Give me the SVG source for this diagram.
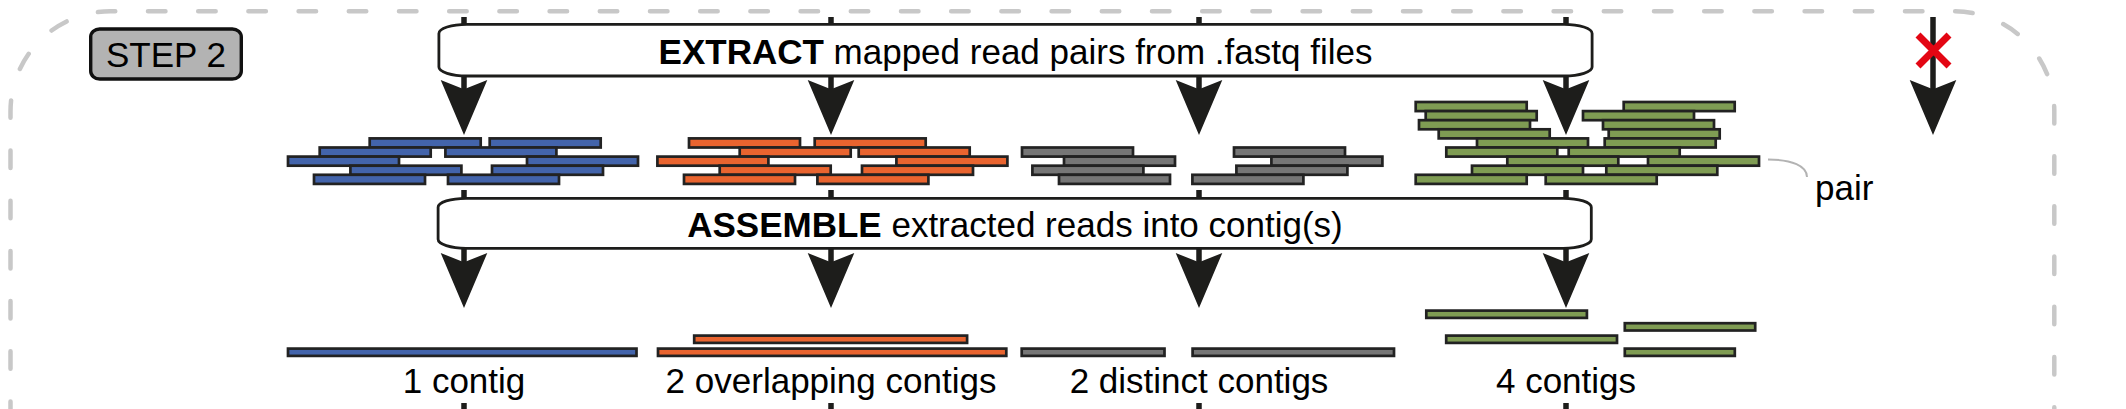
<svg xmlns="http://www.w3.org/2000/svg" width="2126" height="409" viewBox="0 0 2126 409">
<style>
.border{fill:none;stroke:#c8c8c8;stroke-width:4.5;stroke-linecap:round;stroke-dasharray:17.5 32.7;stroke-dashoffset:10}
.box{fill:#fff;stroke:#1d1d1b;stroke-width:2.8}
.step{fill:#b3b3b3;stroke:#111;stroke-width:3.4}
.t{font-family:"Liberation Sans",Arial,sans-serif;font-size:35px;fill:#000}
.b{font-weight:bold}
.rd rect{stroke:#222;stroke-width:2.7}
.blue rect{fill:#4364ab}
.orange rect{fill:#e9642f}
.gray rect{fill:#767676}
.green rect{fill:#7f9c53}
.shaft{stroke:#1d1d1b;stroke-width:5.5;fill:none}
.head{fill:#1d1d1b}
.cross{stroke:#e30613;stroke-width:7;fill:none}
.lead{fill:none;stroke:#b3b3b3;stroke-width:2}
</style>
<defs>
<polygon id="ah" points="-23.3,0 0,9.3 23.3,0 0,55"/>
</defs>
<path class="border" d="M 10.5 409 V 111.3 A 100 100 0 0 1 110.5 11.3 H 1954.3 A 100 100 0 0 1 2054.3 111.3 V 409"/>
<g id="step-label">
<rect class="step" x="90.7" y="29" width="150.6" height="50" rx="9" ry="8"/>
<text class="t" x="166" y="66.7" text-anchor="middle">STEP 2</text>
</g>
<g id="reads-blue" class="rd blue">
<rect x="369.7" y="138.4" width="111" height="9.1"/><rect x="489.7" y="138.4" width="111" height="9.1"/>
<rect x="319.7" y="147.5" width="111" height="9.1"/><rect x="445.4" y="147.5" width="111" height="9.1"/>
<rect x="288" y="156.6" width="111" height="9.1"/><rect x="527" y="156.6" width="111" height="9.1"/>
<rect x="350.4" y="165.7" width="111" height="9.1"/><rect x="492" y="165.7" width="111" height="9.1"/>
<rect x="314" y="174.8" width="111" height="9.1"/><rect x="448" y="174.8" width="111" height="9.1"/>
</g>
<g id="reads-orange" class="rd orange">
<rect x="689" y="138.4" width="111" height="9.1"/><rect x="814.7" y="138.4" width="111" height="9.1"/>
<rect x="739.7" y="147.5" width="111" height="9.1"/><rect x="858.7" y="147.5" width="111" height="9.1"/>
<rect x="657.4" y="156.6" width="111" height="9.1"/><rect x="896.4" y="156.6" width="111" height="9.1"/>
<rect x="719.7" y="165.7" width="111" height="9.1"/><rect x="862" y="165.7" width="111" height="9.1"/>
<rect x="684" y="174.8" width="111" height="9.1"/><rect x="817.4" y="174.8" width="111" height="9.1"/>
</g>
<g id="reads-gray" class="rd gray">
<rect x="1022" y="147.5" width="111" height="9.1"/><rect x="1234" y="147.5" width="111" height="9.1"/>
<rect x="1064" y="156.6" width="111" height="9.1"/><rect x="1271.4" y="156.6" width="111" height="9.1"/>
<rect x="1032.4" y="165.7" width="111" height="9.1"/><rect x="1236.4" y="165.7" width="111" height="9.1"/>
<rect x="1059" y="174.8" width="111" height="9.1"/><rect x="1192.4" y="174.8" width="111" height="9.1"/>
</g>
<g id="reads-green" class="rd green">
<rect x="1415.7" y="102" width="111" height="9.1"/><rect x="1623.7" y="102" width="111" height="9.1"/>
<rect x="1425.7" y="111.1" width="111" height="9.1"/><rect x="1583" y="111.1" width="111" height="9.1"/>
<rect x="1419" y="120.2" width="111" height="9.1"/><rect x="1603" y="120.2" width="111" height="9.1"/>
<rect x="1438.7" y="129.3" width="111" height="9.1"/><rect x="1608.7" y="129.3" width="111" height="9.1"/>
<rect x="1477" y="138.4" width="111" height="9.1"/><rect x="1604.7" y="138.4" width="111" height="9.1"/>
<rect x="1446.3" y="147.5" width="111" height="9.1"/><rect x="1568.7" y="147.5" width="111" height="9.1"/>
<rect x="1507.3" y="156.6" width="111" height="9.1"/><rect x="1648" y="156.6" width="111" height="9.1"/>
<rect x="1472" y="165.7" width="111" height="9.1"/><rect x="1606.3" y="165.7" width="111" height="9.1"/>
<rect x="1415.7" y="174.8" width="111" height="9.1"/><rect x="1545.7" y="174.8" width="111" height="9.1"/>
</g>
<g id="pair-label">
<path class="lead" d="M 1768 159.5 C 1792 159.5 1807 166 1807 177"/>
<text class="t" x="1815" y="200">pair</text>
</g>
<g id="contigs-blue" class="rd blue">
<rect x="288" y="348.6" width="348.5" height="7.3"/>
<text class="t" x="464" y="393" text-anchor="middle">1 contig</text>
</g>
<g id="contigs-orange" class="rd orange">
<rect x="694.2" y="335.6" width="272.9" height="7.3"/>
<rect x="658" y="348.6" width="348.3" height="7.3"/>
<text class="t" x="831" y="393" text-anchor="middle">2 overlapping contigs</text>
</g>
<g id="contigs-gray" class="rd gray">
<rect x="1021.7" y="348.6" width="142.8" height="7.3"/>
<rect x="1192.6" y="348.6" width="201.4" height="7.3"/>
<text class="t" x="1199" y="393" text-anchor="middle">2 distinct contigs</text>
</g>
<g id="contigs-green" class="rd green">
<rect x="1426.3" y="310.6" width="160.6" height="7.3"/>
<rect x="1624.8" y="323.2" width="130.4" height="7.3"/>
<rect x="1446.2" y="335.6" width="170.8" height="7.3"/>
<rect x="1624.8" y="348.6" width="110" height="7.3"/>
<text class="t" x="1566" y="393" text-anchor="middle">4 contigs</text>
</g>
<g id="connectors">
<line class="shaft" x1="464" y1="17" x2="464" y2="90"/>
<line class="shaft" x1="831" y1="17" x2="831" y2="90"/>
<line class="shaft" x1="1199" y1="17" x2="1199" y2="90"/>
<line class="shaft" x1="1566" y1="17" x2="1566" y2="90"/>
<line class="shaft" x1="1933" y1="17" x2="1933" y2="90"/>
<use href="#ah" class="head" x="464" y="80"/>
<use href="#ah" class="head" x="831" y="80"/>
<use href="#ah" class="head" x="1199" y="80"/>
<use href="#ah" class="head" x="1566" y="80"/>
<use href="#ah" class="head" x="1933" y="80"/>
<line class="shaft" x1="464" y1="190" x2="464" y2="263"/>
<line class="shaft" x1="831" y1="190" x2="831" y2="263"/>
<line class="shaft" x1="1199" y1="190" x2="1199" y2="263"/>
<line class="shaft" x1="1566" y1="190" x2="1566" y2="263"/>
<use href="#ah" class="head" x="464" y="253"/>
<use href="#ah" class="head" x="831" y="253"/>
<use href="#ah" class="head" x="1199" y="253"/>
<use href="#ah" class="head" x="1566" y="253"/>
<line class="shaft" x1="464" y1="403" x2="464" y2="409"/>
<line class="shaft" x1="831" y1="403" x2="831" y2="409"/>
<line class="shaft" x1="1199" y1="403" x2="1199" y2="409"/>
<line class="shaft" x1="1566" y1="403" x2="1566" y2="409"/>
<path class="cross" d="M 1918 35 L 1949 66 M 1949 35 L 1918 66"/>
</g>
<g id="extract">
<rect class="box" x="438.9" y="24.4" width="1153.2" height="51.6" rx="28" ry="9"/>
<text class="t" x="1015.5" y="63.5" text-anchor="middle"><tspan class="b">EXTRACT</tspan> mapped read pairs from .fastq files</text>
</g>
<g id="assemble">
<rect class="box" x="438.1" y="198.3" width="1153.2" height="50" rx="28" ry="9"/>
<text class="t" x="1015" y="237" text-anchor="middle"><tspan class="b">ASSEMBLE</tspan> extracted reads into contig(s)</text>
</g>
</svg>
